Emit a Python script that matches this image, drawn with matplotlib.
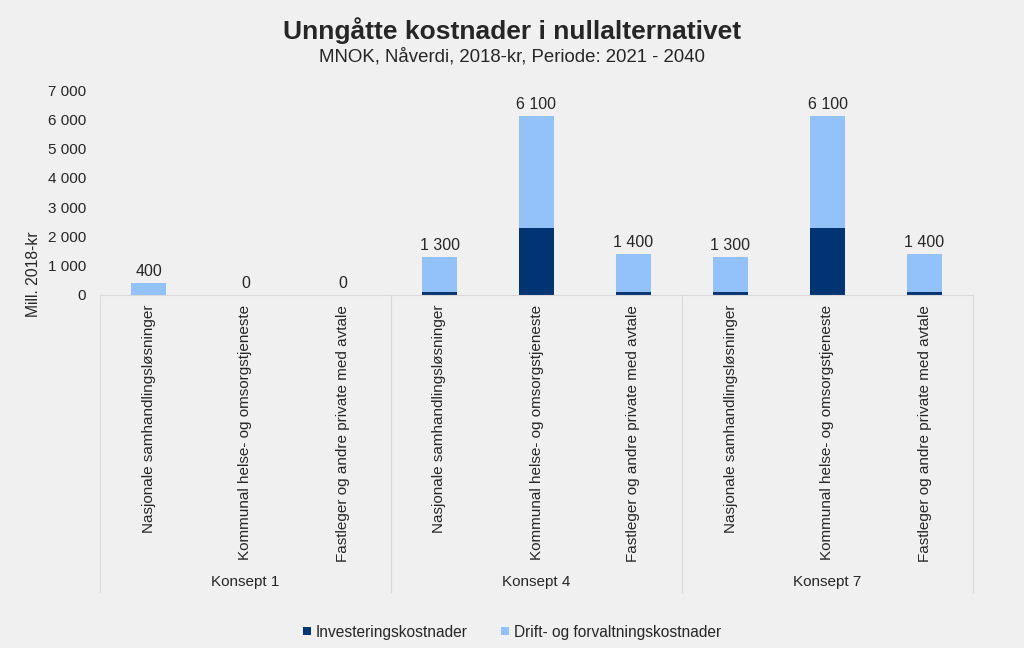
import numpy as np
import matplotlib
matplotlib.use("Agg")
import matplotlib.pyplot as plt
from matplotlib.ticker import FuncFormatter
from matplotlib.transforms import blended_transform_factory

plt.rcParams['font.family'] = ['Liberation Sans', 'DejaVu Sans']

# data
groups = ["Konsept 1", "Konsept 4", "Konsept 7"]
categories = ["Nasjonale samhandlingsløsninger",
              "Kommunal helse- og omsorgstjeneste",
              "Fastleger og andre private med avtale"]
investering = [0, 0, 0, 100, 2280, 100, 100, 2280, 100]
drift = [400, 0, 0, 1200, 3820, 1300, 1200, 3820, 1300]
totals = [400, 0, 0, 1300, 6100, 1400, 1300, 6100, 1400]

BG = "#f0f0f0"
DARK = "#003473"
LIGHT = "#93c2fb"
GRID = "#d9d9d9"
TXT = "#262626"

fig = plt.figure(figsize=(10.24, 6.48), dpi=100, facecolor=BG)
ax = fig.add_axes([100 / 1024, 1 - 295 / 648, 873 / 1024, 205 / 648])
ax.set_facecolor(BG)

x = np.arange(len(totals))
w = 0.37
ax.bar(x, investering, w, color=DARK, label="Investeringskostnader")
ax.bar(x, drift, w, bottom=investering, color=LIGHT,
       label="Drift- og forvaltningskostnader")

for xi, t in zip(x, totals):
    ax.annotate(f"{t:,}".replace(",", " "), (xi, t), xytext=(0, 3),
                textcoords="offset points", ha="center", va="bottom",
                fontsize=11.5, color=TXT)

ax.set_xlim(-0.5, len(totals) - 0.5)
ax.set_ylim(0, 7000)
ax.set_yticks(np.arange(0, 7001, 1000))
ax.yaxis.set_major_formatter(FuncFormatter(lambda v, p: f"{int(v):,}".replace(",", " ")))
ax.tick_params(axis="y", length=0, labelsize=11, labelcolor=TXT, pad=10)

ax.set_xticks(x)
ax.set_xticklabels(categories * len(groups), rotation=90, va="top", ha="center")
ax.tick_params(axis="x", length=0, labelsize=11, labelcolor=TXT, pad=7)

for s in ["top", "right", "left"]:
    ax.spines[s].set_visible(False)
ax.spines["bottom"].set_color(GRID)

# group separators and labels below the category labels
trans = blended_transform_factory(ax.transData, ax.transAxes)
for xs in [-0.5, 2.5, 5.5, 8.5]:
    ax.plot([xs, xs], [0, -297 / 205], transform=trans, color=GRID,
            lw=0.8, clip_on=False)
for i, g in enumerate(groups):
    ax.text(3 * i + 1, -287 / 205, g, transform=trans, ha="center",
            va="center", fontsize=11, color=TXT)

fig.text(33 / 1024, 1 - 274 / 648, "Mill. 2018-kr", rotation=90,
         ha="center", va="center", fontsize=11.3, color=TXT)

fig.text(0.5, 1 - 31 / 648, "Unngåtte kostnader i nullalternativet",
         ha="center", va="center", fontsize=19, fontweight="bold", color=TXT)
fig.text(0.5, 1 - 57 / 648, "MNOK, Nåverdi, 2018-kr, Periode: 2021 - 2040",
         ha="center", va="center", fontsize=13.4, color=TXT)

fig.legend(loc="center", bbox_to_anchor=(0.5, 1 - 632 / 648), ncol=2,
           frameon=False, fontsize=11.2, handlelength=0.5, handleheight=0.5,
           columnspacing=2.2, handletextpad=0.3, labelcolor=TXT)

fig.savefig("out.png", dpi=100, facecolor=BG)
